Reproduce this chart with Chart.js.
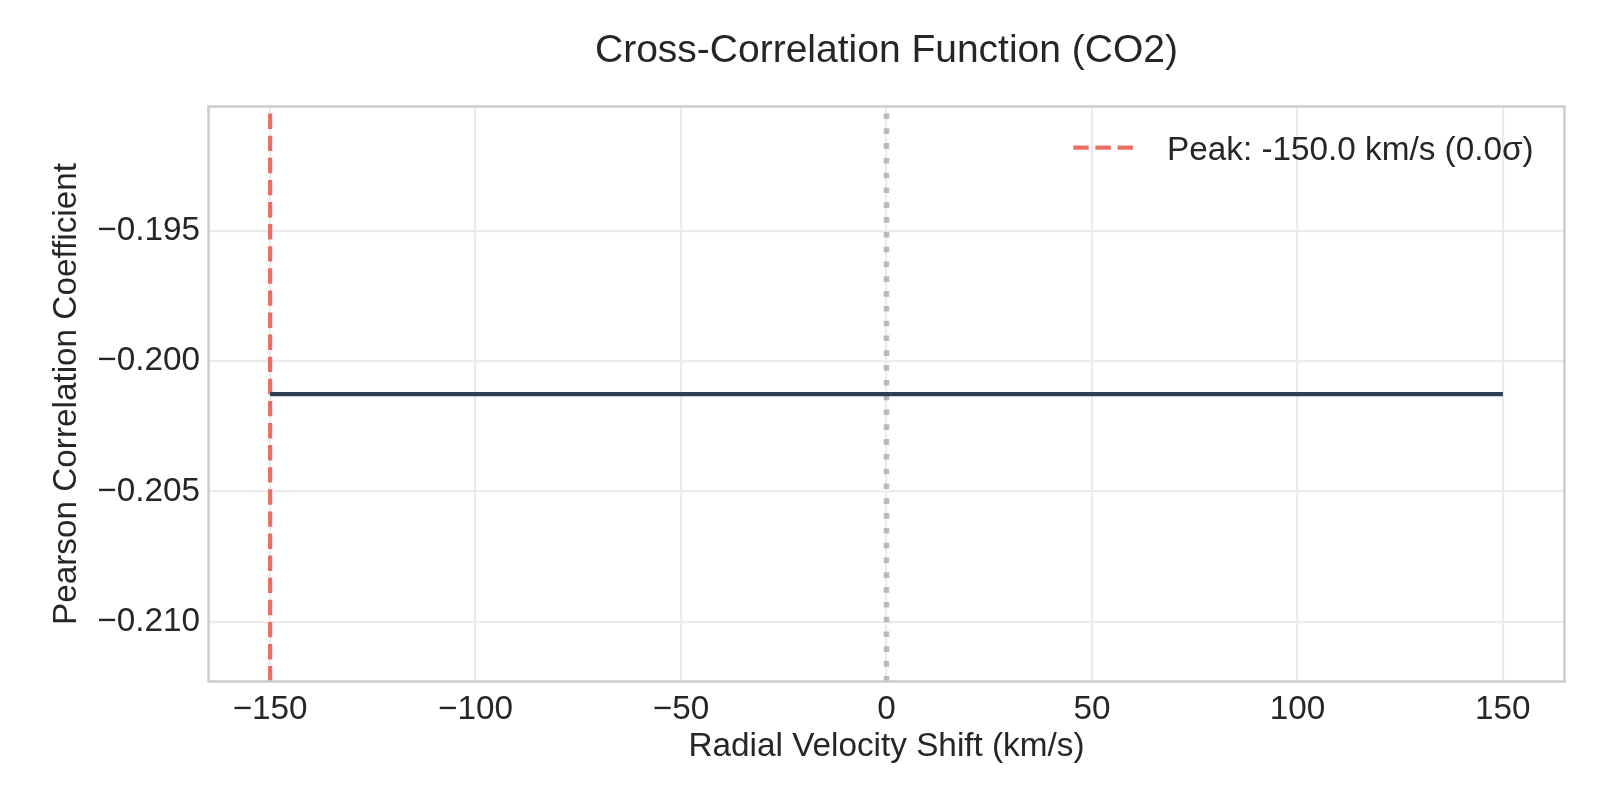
<!DOCTYPE html>
<html>
<head>
<meta charset="utf-8">
<script src="https://cdn.jsdelivr.net/npm/chart.js@4.4.1/dist/chart.umd.min.js"></script>
<style>
html,body{margin:0;padding:0;background:#ffffff;}
#wrap{width:1600px;height:800px;position:relative;}
canvas{display:block;}
</style>
</head>
<body>
<div id="wrap"><canvas id="c" width="1600" height="800"></canvas></div>
<script>
// ---- data ----
const velocities = [-150, -100, -50, 0, 50, 100, 150];
const correlation = [-0.20127, -0.20127, -0.20127, -0.20127, -0.20127, -0.20127, -0.20127];
const peakVelocity = [-150, -150];
const zeroVelocity = [0, 0];
const yLimits = [-0.21229, -0.19024];
const xLimits = [-165, 165];
const xTicks = [-150, -100, -50, 0, 50, 100, 150];
const yTicks = [-0.210, -0.205, -0.200, -0.195];
const titleText = 'Cross-Correlation Function (CO2)';
const xLabel = 'Radial Velocity Shift (km/s)';
const yLabel = 'Pearson Correlation Coefficient';
const peakLabel = 'Peak: -150.0 km/s (0.0σ)';

const FONT = "'Liberation Sans', Arial, 'DejaVu Sans', sans-serif";
const TEXT = '#262626';

function fmt(v, d) {
  const s = Math.abs(v).toFixed(d);
  return (v < -1e-12 ? '\u2212' : '') + s;
}

const frameLegend = {
  id: 'frameLegend',
  afterDatasetsDraw(chart) {
    const ctx = chart.ctx;
    const a = chart.chartArea;
    ctx.save();
    ctx.strokeStyle = '#cccccc';
    ctx.lineWidth = 2.5;
    ctx.setLineDash([]);
    ctx.strokeRect(a.left, a.top, a.right - a.left, a.bottom - a.top);
    // legend (upper right, no frame)
    const ds = chart.data.datasets[1];
    ctx.strokeStyle = ds.borderColor;
    ctx.lineWidth = ds.borderWidth;
    ctx.setLineDash(ds.borderDash);
    ctx.lineCap = 'butt';
    ctx.beginPath();
    ctx.moveTo(1073.3, 147.7);
    ctx.lineTo(1133.3, 147.7);
    ctx.stroke();
    ctx.setLineDash([]);
    ctx.fillStyle = TEXT;
    ctx.font = '33.3px ' + FONT;
    ctx.textAlign = 'left';
    ctx.textBaseline = 'alphabetic';
    ctx.fillText(ds.label, 1167, 160);
    ctx.restore();
  }
};

new Chart(document.getElementById('c'), {
  type: 'line',
  data: {
    datasets: [
      {
        label: 'CCF',
        data: velocities.map((v, i) => ({x: v, y: correlation[i]})),
        borderColor: '#2c3e50',
        borderWidth: 4.2,
        pointRadius: 0,
        tension: 0,
        fill: false
      },
      {
        label: peakLabel,
        data: peakVelocity.map((v, i) => ({x: v, y: yLimits[i]})),
        borderColor: 'rgba(231,76,60,0.8)',
        borderWidth: 4.2,
        borderDash: [15.4, 6.7],
        borderCapStyle: 'butt',
        pointRadius: 0,
        fill: false
      },
      {
        label: 'zero',
        data: zeroVelocity.map((v, i) => ({x: v, y: yLimits[i]})),
        borderColor: 'rgba(128,128,128,0.5)',
        borderWidth: 5.6,
        borderDash: [5.6, 9.2],
        borderCapStyle: 'butt',
        pointRadius: 0,
        fill: false
      }
    ]
  },
  options: {
    responsive: false,
    animation: false,
    devicePixelRatio: 1,
    layout: {padding: {left: 0, right: 35.5, top: 0, bottom: 0}},
    plugins: {
      legend: {display: false},
      tooltip: {enabled: false},
      title: {
        display: true,
        fullSize: false,
        text: titleText,
        color: TEXT,
        font: {family: FONT, size: 39, weight: 'normal', lineHeight: 1.2},
        padding: {top: 27.5, bottom: 32.2}
      }
    },
    scales: {
      x: {
        type: 'linear',
        min: xLimits[0],
        max: xLimits[1],
        afterBuildTicks: (s) => { s.ticks = xTicks.map(v => ({value: v})); },
        afterFit: (s) => { s.height = 118.5; },
        grid: {color: '#ebebeb', lineWidth: 2.2, drawTicks: false},
        border: {display: false},
        ticks: {
          color: TEXT,
          padding: 8.5,
          maxRotation: 0,
          font: {family: FONT, size: 33.3, lineHeight: 1.2},
          callback: (v) => fmt(v, 0)
        },
        title: {
          display: true,
          text: xLabel,
          color: TEXT,
          font: {family: FONT, size: 33.3, lineHeight: 1.2},
          padding: {top: 0, bottom: 33.3}
        }
      },
      y: {
        type: 'linear',
        min: yLimits[0],
        max: yLimits[1],
        afterBuildTicks: (s) => { s.ticks = yTicks.map(v => ({value: v})); },
        afterFit: (s) => { s.width = 208.5; },
        grid: {color: '#ebebeb', lineWidth: 2.2, drawTicks: false},
        border: {display: false},
        ticks: {
          color: TEXT,
          padding: 8.5,
          font: {family: FONT, size: 33.3, lineHeight: 1.2},
          callback: (v) => fmt(v, 3)
        },
        title: {
          display: true,
          text: yLabel,
          color: TEXT,
          font: {family: FONT, size: 33.3, lineHeight: 1.2},
          padding: {top: 46.7, bottom: 0}
        }
      }
    }
  },
  plugins: [frameLegend]
});
</script>
</body>
</html>
